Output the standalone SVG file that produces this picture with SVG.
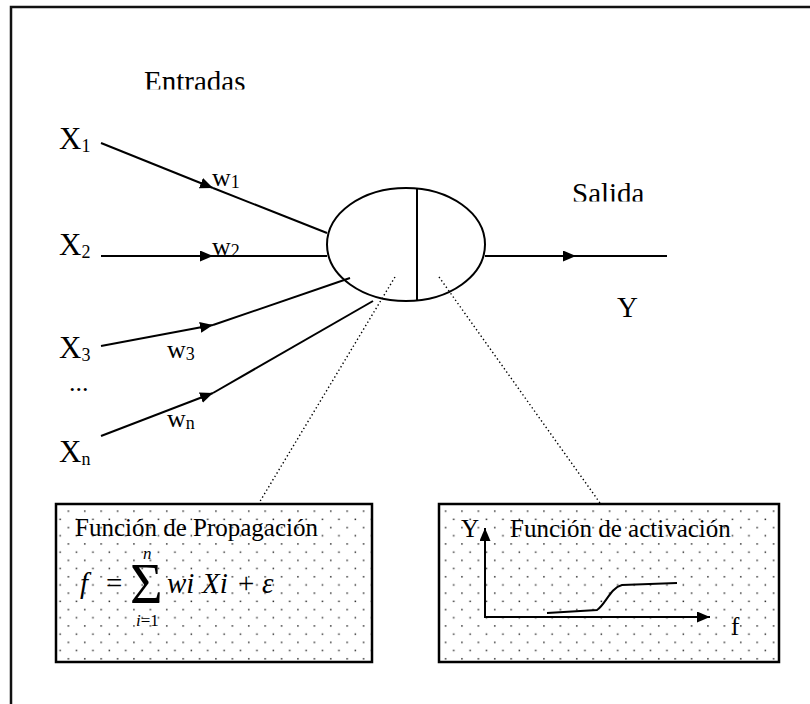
<svg xmlns="http://www.w3.org/2000/svg" width="810" height="704" viewBox="0 0 810 704">
  <style>
    text { font-family: "Liberation Serif", "Times New Roman", serif; fill: #000; }
    .lbl { font-size: 29px; }
    .x { font-size: 31px; }
    .w { font-size: 26px; }
    .sub { font-size: 18px; }
    .bx { font-size: 25px; }
    .fm { font-size: 29px; }
    .it { font-style: italic; }
    .ln { stroke: #000; stroke-width: 2; fill: none; }
    .dot { stroke: #000; stroke-width: 1.4; stroke-dasharray: 1.4 2.6; fill: none; }
    .box { stroke: #000; stroke-width: 2.5; fill: url(#dots); }
  </style>
  <defs>
    <marker id="arr" markerUnits="userSpaceOnUse" markerWidth="13" markerHeight="11" refX="13" refY="5.5" orient="auto">
      <path d="M0,0 L13,5.5 L0,11 z" fill="#000"/>
    </marker>
    <pattern id="dots" patternUnits="userSpaceOnUse" x="0" y="0" width="16.4" height="16.4">
      <rect width="16.4" height="16.4" fill="#fff"/>
      <rect x="2" y="2" width="1.5" height="1.5" fill="#333"/>
      <rect x="10.2" y="10.2" width="1.5" height="1.5" fill="#333"/>
    </pattern>
    <clipPath id="clipE"><rect x="100" y="50" width="200" height="39.5"/></clipPath>
    <clipPath id="clipS"><rect x="540" y="160" width="150" height="41.5"/></clipPath>
  </defs>

  <rect width="810" height="704" fill="#fff"/>
  <!-- outer frame -->
  <path d="M11,720 L11,7 L820,7" stroke="#111" stroke-width="2.5" fill="none"/>

  <g id="connectors">
    <line class="ln" x1="101" y1="143" x2="213" y2="188" marker-end="url(#arr)"/>
    <line class="ln" x1="213" y1="188" x2="327" y2="233"/>
    <line class="ln" x1="101" y1="256" x2="213" y2="256" marker-end="url(#arr)"/>
    <line class="ln" x1="213" y1="256" x2="327" y2="256"/>
    <line class="ln" x1="101" y1="346" x2="213" y2="325" marker-end="url(#arr)"/>
    <line class="ln" x1="213" y1="325" x2="350" y2="278"/>
    <line class="ln" x1="101" y1="436" x2="213" y2="393" marker-end="url(#arr)"/>
    <line class="ln" x1="213" y1="393" x2="373" y2="301"/>
    <line class="ln" x1="485" y1="256" x2="576" y2="256" marker-end="url(#arr)"/>
    <line class="ln" x1="576" y1="256" x2="667" y2="256"/>
    <line class="dot" x1="395" y1="277" x2="259" y2="503"/>
    <line class="dot" x1="439" y1="277" x2="600" y2="503"/>
  </g>

  <g id="labels">
    <text class="lbl" x="144" y="91" clip-path="url(#clipE)">Entradas</text>
    <text class="lbl" x="572" y="203" clip-path="url(#clipS)">Salida</text>
    <text class="lbl" x="617" y="317">Y</text>
    <text class="x" x="59" y="149">X<tspan class="sub" dy="3">1</tspan></text>
    <text class="x" x="59" y="255">X<tspan class="sub" dy="3">2</tspan></text>
    <text class="x" x="59" y="358">X<tspan class="sub" dy="3">3</tspan></text>
    <text class="x" x="59" y="462">X<tspan class="sub" dy="3">n</tspan></text>
    <text class="w" x="69" y="391">...</text>
    <text class="w" x="212" y="186">w<tspan class="sub" dy="2">1</tspan></text>
    <text class="w" x="212" y="255">w<tspan class="sub" dy="2">2</tspan></text>
    <text class="w" x="167" y="358">w<tspan class="sub" dy="2">3</tspan></text>
    <text class="w" x="167" y="427">w<tspan class="sub" dy="2">n</tspan></text>
  </g>

  <g id="neuron">
    <ellipse class="ln" cx="406" cy="244.5" rx="79" ry="56.5" fill="#fff"/>
    <line class="ln" x1="417" y1="188.5" x2="417" y2="300.5"/>
  </g>

  <g id="propagacion">
    <rect class="box" x="56" y="504" width="316" height="158"/>
    <text class="bx" x="75" y="536">Función de Propagación</text>
    <text class="fm it" x="80" y="593">f</text>
    <text class="fm" x="106" y="593">=</text>
    <text x="130" y="603" style="font-size:56px">Σ</text>
    <text class="it" x="143" y="559" style="font-size:17px">n</text>
    <text x="136" y="626" style="font-size:17px"><tspan font-style="italic">i</tspan>=1</text>
    <text class="fm it" x="167" y="593">wi</text>
    <text class="fm it" x="202" y="593">Xi</text>
    <text class="fm" x="238" y="593">+</text>
    <text class="fm it" x="262" y="593">ε</text>
  </g>

  <g id="activacion">
    <rect class="box" x="439" y="504" width="340" height="158"/>
    <text class="bx" x="461" y="537">Y</text>
    <text class="bx" x="510" y="537">Función de activación</text>
    <line class="ln" x1="485" y1="617" x2="485" y2="528" marker-end="url(#arr)"/>
    <line class="ln" x1="484" y1="617" x2="710" y2="617" marker-end="url(#arr)"/>
    <path class="ln" d="M547,613 L597,610 C606,604 610,588 622,585 L677,583"/>
    <text class="bx" x="731" y="635">f</text>
  </g>
</svg>
